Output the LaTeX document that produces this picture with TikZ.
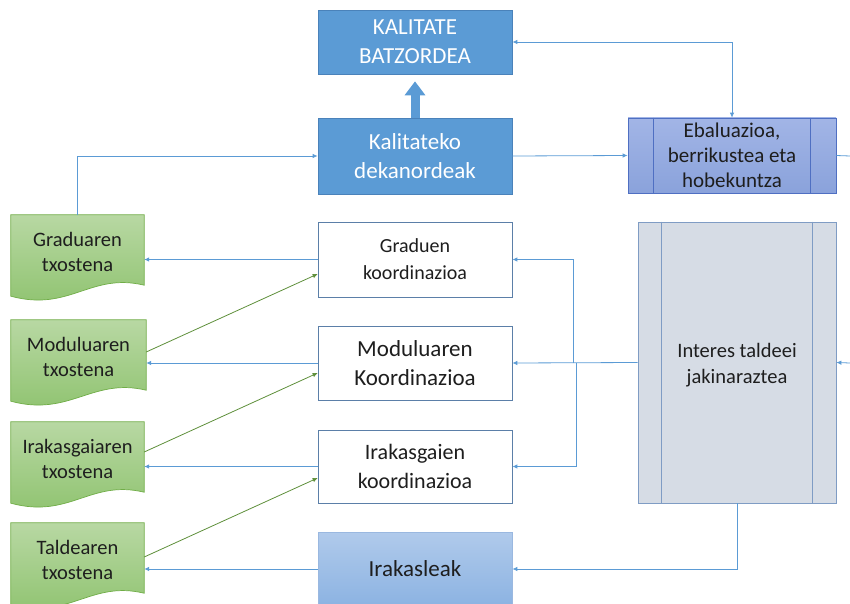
\documentclass[tikz,border=0pt]{standalone}
\usepackage{fontspec}
\setmainfont{Carlito}
\usetikzlibrary{arrows.meta,calc,backgrounds}
\definecolor{bdark}{HTML}{5B9BD5}
\definecolor{bborder}{HTML}{4A82BA}
\definecolor{cborder}{HTML}{5B7FA8}
\definecolor{lineblue}{HTML}{5B9BD5}
\definecolor{linegreen}{HTML}{5E8F3A}
\definecolor{evtop}{HTML}{A2B5E6}
\definecolor{evbot}{HTML}{8AA2DB}
\definecolor{evborder}{HTML}{4F6FC2}
\definecolor{intfill}{HTML}{D6DCE5}
\definecolor{intborder}{HTML}{7F9CC4}
\definecolor{irtop}{HTML}{B0CAEB}
\definecolor{irbot}{HTML}{8CB3E2}
\definecolor{irborder}{HTML}{9AB8E0}
\definecolor{gtop}{HTML}{B8D8A3}
\definecolor{gbot}{HTML}{8DC26D}
\definecolor{gborder}{HTML}{70AD47}
\definecolor{txt}{HTML}{1E1E1E}
\tikzset{
  base/.style={rectangle, inner sep=0pt, align=center, text=txt, font=\fontsize{23}{29}\selectfont},
  darkbox/.style={base, fill=bdark, draw=bborder, text=white, line width=0.7pt},
  coordbox/.style={base, fill=white, draw=cborder, line width=0.7pt, minimum width=194pt},
  evalbox/.style={base, top color=evtop, bottom color=evbot, draw=evborder, line width=0.7pt, font=\fontsize{21}{25}\selectfont},
  intbox/.style={base, fill=intfill, draw=intborder, line width=0.7pt, font=\fontsize{20.5}{26}\selectfont},
  irbox/.style={base, top color=irtop, bottom color=irbot, draw=irborder, line width=0.7pt},
  docnode/.style={base, font=\fontsize{20.5}{25}\selectfont},
  docsty/.style={top color=gtop, bottom color=gbot, draw=gborder, line width=0.7pt},
  conn/.style={draw=lineblue, line width=0.8pt, -{Latex[length=5pt,width=4.5pt]}},
  plainline/.style={draw=lineblue, line width=0.8pt},
  gconn/.style={draw=linegreen, line width=0.8pt, -{Latex[length=5pt,width=4.5pt]}},
}
\newcommand\docshape[1]{\path[docsty] (#1.north west) -- (#1.north east) -- ($(#1.south east)+(0,-3)$) .. controls ($(#1.south east)+(-54,-16)$) and ($(#1.south west)+(59,24)$) .. ($(#1.south west)+(0,8)$) -- cycle;}
\begin{document}
\begin{tikzpicture}[x=1pt,y=-1pt]
\useasboundingbox (0,0) rectangle (850,604);

% top boxes
\node[darkbox, minimum width=194pt, minimum height=64pt] (kb) at (415,42) {KALITATE\\BATZORDEA};
\node[darkbox, minimum width=194pt, minimum height=76pt] (kd) at (415,156) {Kalitateko\\dekanordeak};
\node[evalbox, minimum width=208pt, minimum height=75pt] (ev) at (732,155.5) {Ebaluazioa,\\berrikustea eta\\hobekuntza};
\draw[evborder, line width=0.7pt] ($(ev.north west)+(26,0)$) -- ($(ev.south west)+(26,0)$);
\draw[evborder, line width=0.7pt] ($(ev.north east)+(-26,0)$) -- ($(ev.south east)+(-26,0)$);

% coordination boxes
\node[coordbox, minimum height=75pt, font=\fontsize{20}{27}\selectfont] (gc) at (415,259.5) {Graduen\\koordinazioa};
\node[coordbox, minimum height=74pt] (mc) at (415,363) {Moduluaren\\Koordinazioa};
\node[coordbox, minimum height=73pt, font=\fontsize{22}{29}\selectfont] (ic) at (415,466.5) {Irakasgaien\\koordinazioa};
\node[irbox, minimum width=194pt, minimum height=74pt] (ir) at (415,569) {Irakasleak};

% interes box
\node[intbox, minimum width=198pt, minimum height=281pt] (it) at (737,362.5) {};
\node[intbox, draw=none, fill=none] (itxt) at (737,365.5) {Interes taldeei\\jakinaraztea};
\draw[intborder, line width=0.7pt] ($(it.north west)+(24,0)$) -- ($(it.south west)+(24,0)$);
\draw[intborder, line width=0.7pt] ($(it.north east)+(-24,0)$) -- ($(it.south east)+(-24,0)$);

% documents
\node[docnode, minimum width=133pt, minimum height=73pt] (gd) at (77.5,251.5) {Graduaren\\txostena};
\node[docnode, minimum width=135pt, minimum height=73pt] (md) at (78.5,356.5) {Moduluaren\\txostena};
\node[docnode, minimum width=133pt, minimum height=73pt] (id) at (77.5,458.5) {Irakasgaiaren\\txostena};
\node[docnode, minimum width=133pt, minimum height=73pt] (td) at (77.5,559.5) {Taldearen\\txostena};
\begin{scope}[on background layer]
\docshape{gd}
\docshape{md}
\docshape{id}
\docshape{td}
\end{scope}

% thick arrow
\draw[draw=bdark, line width=9pt, -{Triangle[width=20pt,length=14pt]}, shorten >=7pt] (kd.north) -- (kb.south);

% edge coordinates
\coordinate (redge1) at (850,156);
\coordinate (redge2) at (850,363);
\coordinate (junc) at (573,363);

% connectors
\draw[conn] (gd.north) |- (kd.west);
\draw[conn] (kd.east) -- (ev.west);
\draw[conn, {Latex[length=5pt,width=4.5pt]}-{Latex[length=5pt,width=4.5pt]}] (ev.north) |- (kb.east);
\draw[plainline] (ev.east) -- (redge1);
\draw[conn] (redge2) -- (it.east);
\draw[conn] (it.west) -- (mc.east);
\draw[conn] (junc) |- (gc.east);
\draw[conn] ($(junc)+(3,0)$) |- (ic.east);
\draw[conn] (it.south) |- (ir.east);

\draw[conn] (gc.west) -- (gc.west -| gd.east);
\draw[conn] (mc.west) -- (mc.west -| md.east);
\draw[conn] (ic.west) -- (ic.west -| id.east);
\draw[conn] (ir.west) -- (ir.west -| td.east);

\draw[gconn] ($(md.east)+(0,-4.5)$) -- ($(gc.west)+(0,14.5)$);
\draw[gconn] ($(id.east)+(0,-6.5)$) -- ($(mc.west)+(0,10)$);
\draw[gconn] ($(td.east)+(0,-2.5)$) -- ($(ic.west)+(0,11.5)$);
\end{tikzpicture}
\end{document}
